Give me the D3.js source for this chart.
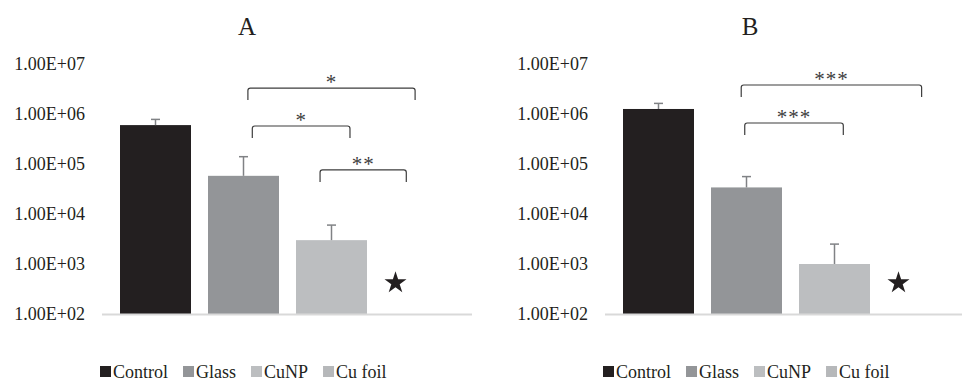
<!DOCTYPE html>
<html>
<head>
<meta charset="utf-8">
<script src="https://cdn.jsdelivr.net/npm/d3@7"></script>
<style>
  body { margin: 0; background: #fff; }
  svg { display: block; }
  svg text { font-family: "Liberation Serif", "Times New Roman", serif; }
</style>
</head>
<body>
<svg id="chart" width="962" height="385"></svg>
<script>
// data (CFU, log scale)
const categories = ['Control', 'Glass', 'CuNP', 'Cu foil'];
const colors = ['#231f20', '#939598', '#bcbec0', '#b6b8ba'];

const meansA = [6.0e5, 5.8e4, 3.0e3, null];
const errorsA = [1.8e5, 8.2e4, 3.0e3, null];
const meansB = [1.26e6, 3.4e4, 1.0e3, null];
const errorsB = [3.7e5, 2.2e4, 1.5e3, null];

// significance brackets: [from, to] in category units, level, label
const bracketsA = [
  {from: 1.05, to: 2.95, level: 3.3e6, label: '*'},
  {from: 1.10, to: 2.21, level: 5.75e5, label: '*'},
  {from: 1.87, to: 2.85, level: 7.6e4, label: '**'}
];
const bracketsB = [
  {from: 0.94, to: 2.99, level: 3.8e6, label: '***'},
  {from: 0.98, to: 2.10, level: 6.6e5, label: '***'}
];

const tickValues = [1e2, 1e3, 1e4, 1e5, 1e6, 1e7];
const starLevel = 420; // "not detected" marker height for Cu foil

const svg = d3.select('#chart');
const textColor = '#231f20';

const y = d3.scaleLog().domain([1e2, 1e7]).range([314, 64]);
const x = d3.scaleBand().domain(categories).range([111.5, 463.5]).paddingInner(17 / 88).paddingOuter(8.5 / 88);

// 1.00E+07 style labels
function sci(v) {
  const e = Math.round(Math.log10(v));
  const m = v / Math.pow(10, e);
  return m.toFixed(2) + 'E+' + String(e).padStart(2, '0');
}

function center(i) {
  return x(categories[0]) + x.bandwidth() / 2 + i * x.step();
}

function drawPanel(offset, title, means, errors, brackets) {
  const g = svg.append('g').attr('transform', `translate(${offset},0)`);

  g.append('text')
    .attr('x', 247).attr('y', 35)
    .attr('text-anchor', 'middle')
    .attr('font-size', 25)
    .attr('fill', textColor)
    .text(title);

  // y axis labels, no line / ticks
  const yAxis = g.append('g')
    .attr('transform', 'translate(85,0)')
    .call(d3.axisLeft(y).tickValues(tickValues).tickFormat(sci).tickSize(0).tickPadding(0));
  yAxis.select('.domain').remove();
  yAxis.selectAll('text')
    .attr('font-size', 18)
    .attr('fill', textColor);

  const rows = categories.map((c, i) => ({cat: c, i, mean: means[i], err: errors[i], color: colors[i]}));
  const present = rows.filter(d => d.mean != null);

  g.selectAll('.bar')
    .data(present)
    .join('rect')
      .attr('class', 'bar')
      .attr('x', d => x(d.cat))
      .attr('width', x.bandwidth())
      .attr('y', d => y(d.mean))
      .attr('height', d => y(1e2) - y(d.mean))
      .attr('fill', d => d.color);

  // upper error bars only
  const eb = g.selectAll('.err')
    .data(present)
    .join('g')
      .attr('class', 'err')
      .attr('stroke', '#808285')
      .attr('stroke-width', 1.5);
  eb.append('line')
    .attr('x1', d => x(d.cat) + x.bandwidth() / 2)
    .attr('x2', d => x(d.cat) + x.bandwidth() / 2)
    .attr('y1', d => y(d.mean))
    .attr('y2', d => y(d.mean + d.err));
  eb.append('line')
    .attr('x1', d => x(d.cat) + x.bandwidth() / 2 - 4.5)
    .attr('x2', d => x(d.cat) + x.bandwidth() / 2 + 4.5)
    .attr('y1', d => y(d.mean + d.err))
    .attr('y2', d => y(d.mean + d.err));

  // baseline
  g.append('line')
    .attr('x1', 102).attr('x2', 472)
    .attr('y1', y(1e2) + 0.5).attr('y2', y(1e2) + 0.5)
    .attr('stroke', '#d9d9d9')
    .attr('stroke-width', 2);

  // star for undetected Cu foil
  rows.filter(d => d.mean == null).forEach(d => {
    g.append('path')
      .attr('d', d3.symbol(d3.symbolStar, 150)())
      .attr('transform', `translate(${x(d.cat) + x.bandwidth() / 2 - 24},${y(starLevel)})`)
      .attr('fill', '#231f20');
  });

  // significance brackets
  const drop = 12, r = 2.5;
  brackets.forEach(b => {
    const x0 = center(b.from), x1 = center(b.to), yl = y(b.level);
    g.append('path')
      .attr('d', `M${x0},${yl + drop}V${yl + r}Q${x0},${yl} ${x0 + r},${yl}H${x1 - r}Q${x1},${yl} ${x1},${yl + r}V${yl + drop}`)
      .attr('fill', 'none')
      .attr('stroke', '#3d3d3d')
      .attr('stroke-width', 1.2);
    g.append('text')
      .attr('x', (x0 + x1) / 2)
      .attr('y', yl + 1)
      .attr('text-anchor', 'middle')
      .attr('font-size', 21)
      .attr('letter-spacing', 1)
      .attr('fill', '#3d3d3d')
      .text(b.label);
  });

  // legend
  const legend = g.append('g').attr('transform', 'translate(100,372)');
  let lx = 0;
  categories.forEach((c, i) => {
    const item = legend.append('g').attr('transform', `translate(${lx},0)`);
    item.append('rect')
      .attr('x', 0).attr('y', -6)
      .attr('width', 11).attr('height', 11)
      .attr('fill', colors[i]);
    const t = item.append('text')
      .attr('x', 13).attr('y', 6)
      .attr('font-size', 18)
      .attr('fill', textColor)
      .text(c);
    lx += 13 + t.node().getComputedTextLength() + 15;
  });
}

drawPanel(0, 'A', meansA, errorsA, bracketsA);
drawPanel(503, 'B', meansB, errorsB, bracketsB);
</script>
</body>
</html>
